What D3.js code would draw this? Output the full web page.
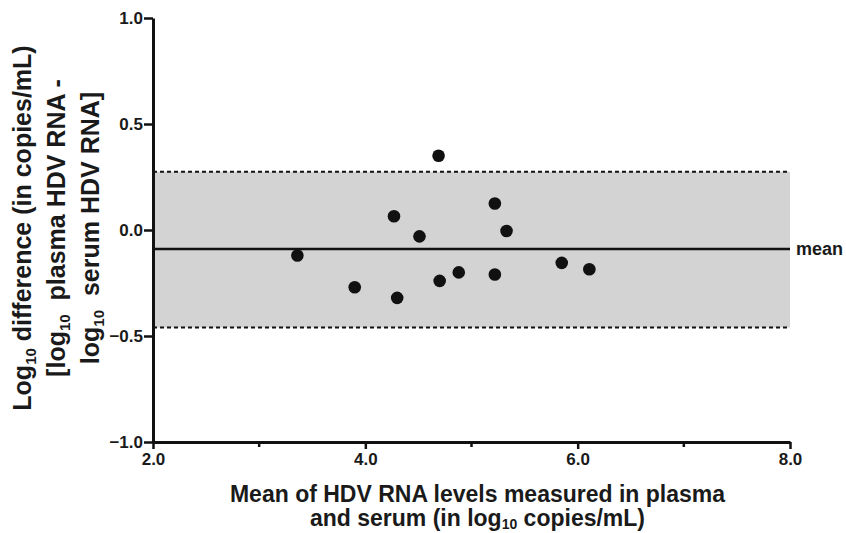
<!DOCTYPE html>
<html>
<head>
<meta charset="utf-8">
<script src="https://cdn.jsdelivr.net/npm/d3@7"></script>
<style>
  body { margin: 0; background: #fff; }
  svg text { font-family: "Liberation Sans", Arial, sans-serif; font-weight: bold; fill: #1a1a1a; }
</style>
</head>
<body>
<div id="wrapper"></div>
<script>
// data
const meanLevels = [3.36, 3.90, 4.27, 4.30, 4.51, 4.69, 4.70, 4.88, 5.22, 5.22, 5.33, 5.85, 6.11]
const logDiffs   = [-0.12, -0.27, 0.065, -0.32, -0.03, 0.35, -0.24, -0.20, 0.125, -0.21, -0.005, -0.155, -0.185]
const meanDiff = -0.09
const upperLimit = 0.275
const lowerLimit = -0.46
const xTicks = [2, 4, 6, 8]
const xMinorTicks = [3, 5, 7]
const yTicks = [-1, -0.5, 0, 0.5, 1]

const dataset = meanLevels.map((x, i) => ({x, y: logDiffs[i]}))

let dimensions = {
    width: 846,
    height: 533,
    margin: { top: 18, right: 56, bottom: 91, left: 153 },
}
dimensions.boundedWidth = dimensions.width - dimensions.margin.left - dimensions.margin.right
dimensions.boundedHeight = dimensions.height - dimensions.margin.top - dimensions.margin.bottom

const wrapper = d3.select("#wrapper").append("svg")
    .attr("width", dimensions.width)
    .attr("height", dimensions.height)

const bounds = wrapper.append("g")
    .attr("transform", `translate(${dimensions.margin.left},${dimensions.margin.top})`)

const xScale = d3.scaleLinear().domain([2, 8]).range([0, dimensions.boundedWidth])
const yScale = d3.scaleLinear().domain([-1, 1]).range([dimensions.boundedHeight, 0])

// limits of agreement band
bounds.append("rect")
    .attr("x", 0)
    .attr("y", yScale(upperLimit))
    .attr("width", xScale(8))
    .attr("height", yScale(lowerLimit) - yScale(upperLimit))
    .attr("fill", "#d3d3d3")

bounds.selectAll(".limit")
    .data([upperLimit, lowerLimit])
    .join("line")
    .attr("class", "limit")
    .attr("x1", 0).attr("x2", xScale(8))
    .attr("y1", d => yScale(d)).attr("y2", d => yScale(d))
    .attr("stroke", "#111")
    .attr("stroke-width", 2)
    .attr("stroke-dasharray", "4,3")

bounds.append("line")
    .attr("x1", 0).attr("x2", xScale(8))
    .attr("y1", yScale(meanDiff)).attr("y2", yScale(meanDiff))
    .attr("stroke", "#111")
    .attr("stroke-width", 2.5)

bounds.append("text")
    .attr("x", xScale(8) + 6)
    .attr("y", yScale(meanDiff))
    .attr("dy", "0.35em")
    .style("font-size", "18px")
    .text("mean")

// points
bounds.selectAll("circle")
    .data(dataset)
    .join("circle")
    .attr("cx", d => xScale(d.x))
    .attr("cy", d => yScale(d.y))
    .attr("r", 6.3)
    .attr("fill", "#111")

// axes
const xAxisGenerator = d3.axisBottom(xScale)
    .tickValues(xTicks)
    .tickFormat(d3.format(".1f"))
    .tickSize(7)
    .tickSizeOuter(0)
    .tickPadding(4)

const xAxis = bounds.append("g")
    .attr("transform", `translate(0,${dimensions.boundedHeight})`)
    .call(xAxisGenerator)

xAxis.selectAll(".minor")
    .data(xMinorTicks)
    .join("line")
    .attr("class", "minor")
    .attr("x1", d => xScale(d)).attr("x2", d => xScale(d))
    .attr("y1", 0).attr("y2", 5)
    .attr("stroke", "#111")
    .attr("stroke-width", 2.5)

const yAxisGenerator = d3.axisLeft(yScale)
    .tickValues(yTicks)
    .tickFormat(d3.format(".1f"))
    .tickSize(9)
    .tickSizeOuter(0)
    .tickPadding(1)

const yAxis = bounds.append("g").call(yAxisGenerator)

;[xAxis, yAxis].forEach(ax => {
    ax.attr("font-size", 17)
    ax.select(".domain").attr("stroke", "#111").attr("stroke-width", 3)
    ax.selectAll(".tick line").attr("stroke", "#111").attr("stroke-width", 2.5)
    ax.selectAll(".tick text")
        .style("font-size", "17px")
        .style("font-family", "'Liberation Sans', Arial, sans-serif")
        .style("font-weight", "bold")
        .attr("fill", "#1a1a1a")
})

// axis titles
const xTitle = wrapper.append("text")
    .attr("text-anchor", "middle")
    .style("font-size", "23px")
const xMid = dimensions.margin.left + dimensions.boundedWidth / 2 + 6
xTitle.append("tspan").attr("x", xMid).attr("y", 502)
    .text("Mean of HDV RNA levels measured in plasma")
const xLine2 = xTitle.append("tspan").attr("x", xMid).attr("y", 526)
xLine2.append("tspan").text("and serum (in log")
xLine2.append("tspan").attr("dy", 3).style("font-size", "14px").text("10")
xLine2.append("tspan").attr("dy", -3).text(" copies/mL)")

const yTitleLines = [
    [["Log", 0], ["10", 1], [" difference (in copies/mL)", 0]],
    [["[log", 0], ["10", 1], ["  plasma HDV RNA -", 0]],
    [["log", 0], ["10", 1], ["  serum HDV RNA]", 0]],
]
const yTitle = wrapper.append("g")
    .attr("transform", `translate(0,228) rotate(-90)`)
yTitleLines.forEach((parts, i) => {
    const t = yTitle.append("text")
        .attr("text-anchor", "middle")
        .attr("x", 0)
        .attr("y", 31 + i * 34)
        .style("font-size", "25px")
        .style("white-space", "pre")
    parts.forEach(([str, sub], j) => {
        t.append("tspan")
            .attr("dy", sub ? 5 : (j === 0 ? 0 : -5))
            .style("font-size", sub ? "15px" : null)
            .text(str)
    })
})
</script>
</body>
</html>
